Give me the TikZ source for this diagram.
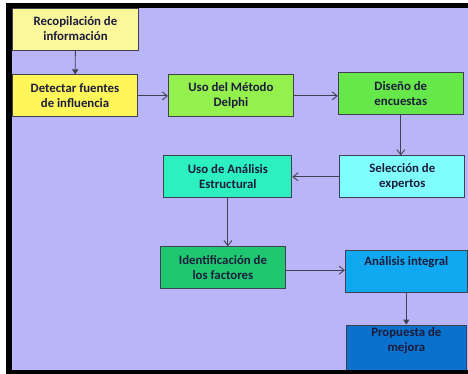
\documentclass[tikz,border=0pt]{standalone}
\usepackage{fontspec}
\setmainfont{Carlito}
\usepackage{xcolor}
\usepackage{tikz}
\usetikzlibrary{arrows.meta, positioning}

\definecolor{fondo}{HTML}{B8B6F8}
\definecolor{amarilloA}{HTML}{FBF89C}
\definecolor{amarilloB}{HTML}{FFF75A}
\definecolor{verdeA}{HTML}{94F04C}
\definecolor{verdeB}{HTML}{66E84A}
\definecolor{cianA}{HTML}{80FFFF}
\definecolor{turquesa}{HTML}{2CF0C0}
\definecolor{verdeC}{HTML}{1FC870}
\definecolor{azulA}{HTML}{10A8F0}
\definecolor{azulB}{HTML}{0A72CC}
\definecolor{borde}{HTML}{404050}
\definecolor{texto}{HTML}{1C1C3C}

\begin{document}
\begin{tikzpicture}[
  x=1pt, y=1pt,
  block/.style={rectangle, draw=borde, line width=0.9pt,
                minimum width=125pt, minimum height=42pt,
                inner sep=2pt, align=center, text=texto,
                font=\bfseries\fontsize{12.8}{15}\selectfont},
  arr/.style={-{Straight Barb[length=5pt,width=8pt]}, line width=0.9pt, draw=borde},
  arrf/.style={-{Triangle[length=5pt,width=6pt]}, line width=0.9pt, draw=borde},
  node distance=24pt
]
  \useasboundingbox (0,0) rectangle (468,-374);
  \fill[fondo] (12,-8) rectangle (468,-370);

  \node[block, fill=amarilloA, minimum width=126pt] (reco) at (75.5,-29) {Recopilación de\\información};
  \node[block, fill=amarilloB, below=24pt of reco, xshift=-0.5pt] (detec) {Detectar fuentes\\de influencia};
  \node[block, fill=verdeA, right=30pt of detec] (delphi) {Uso del Método\\Delphi};
  \node[block, fill=verdeB, right=44pt of delphi, yshift=2pt] (diseno) {Diseño de\\encuestas};
  \node[block, fill=cianA, below=40pt of diseno, xshift=1.5pt] (selec) {Selección de\\expertos};
  \node[block, fill=turquesa, minimum width=128pt, left=47pt of selec] (estru) {Uso de Análisis\\Estructural};
  \node[block, fill=verdeC, below=48pt of estru, xshift=-5pt] (ident) {Identificación de\\los factores};
  \node[block, fill=azulA, minimum width=122pt, right=59pt of ident, yshift=-3.5pt] (integ) {Análisis integral\\\strut};
  \node[block, fill=azulB, minimum width=120pt, minimum height=50pt, below=32pt of integ] (prop) {Propuesta de\\mejora\\[6pt]};

  \draw[arrf] (reco) -- (detec);
  \draw[arr] (detec) -- (delphi);
  \draw[arr] (delphi.east) -- (delphi.east -| diseno.west);
  \draw[arr] (diseno.south) -- (diseno.south |- selec.north);
  \draw[arr] (selec) -- (estru);
  \draw[arr] (estru.south) -- (estru.south |- ident.north);
  \draw[arr] (ident.east) ++(0,-2.5pt) coordinate (identout) -- (identout -| integ.west);
  \draw[arrf] (integ.south) -- (integ.south |- prop.north);

  % marco negro
  \fill[black] (6,-3) rectangle (12,-374);
  \fill[black] (6,-3) rectangle (468,-8);
  \fill[black] (6,-370) rectangle (468,-374);
\end{tikzpicture}
\end{document}
